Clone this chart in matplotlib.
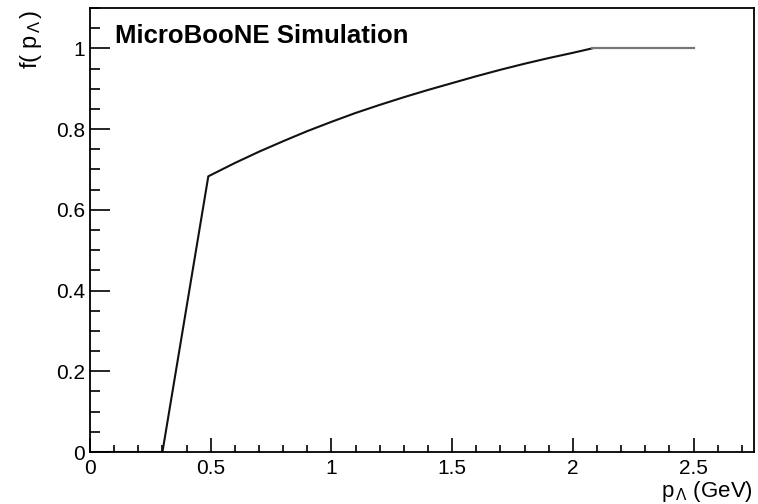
import matplotlib
matplotlib.use("Agg")
import matplotlib.pyplot as plt
from matplotlib.ticker import MultipleLocator

plt.rcParams['font.family'] = ['Liberation Sans', 'DejaVu Sans']
plt.rcParams['mathtext.fontset'] = 'custom'
plt.rcParams['mathtext.rm'] = 'Liberation Sans'
plt.rcParams['mathtext.it'] = 'Liberation Sans:italic'

# data
p_lambda = [0.0, 0.30, 0.49, 0.6, 0.7, 0.8, 0.9, 1.0, 1.1, 1.2, 1.3, 1.4,
            1.5, 1.6, 1.7, 1.8, 1.9, 2.0, 2.08, 2.5]
f_values = [0.0, 0.0, 0.683, 0.716, 0.744, 0.770, 0.795, 0.818, 0.840, 0.860,
            0.879, 0.897, 0.914, 0.931, 0.947, 0.962, 0.976, 0.989, 1.0, 1.0]
x_ticks = [0, 0.5, 1, 1.5, 2, 2.5]
x_tick_labels = ['0', '0.5', '1', '1.5', '2', '2.5']
y_ticks = [0, 0.2, 0.4, 0.6, 0.8, 1.0]
y_tick_labels = ['0', '0.2', '0.4', '0.6', '0.8', '1']

fig = plt.figure(figsize=(7.58, 5.04), dpi=100)
ax = fig.add_axes([90/758, 52/504, 664/758, 444/504])

ax.plot(p_lambda[:-1], f_values[:-1], color='#111111', lw=1.5)
ax.plot(p_lambda[-2:], f_values[-2:], color='#777777', lw=1.6)

ax.set_xlim(0, 2.75)
ax.set_ylim(0, 1.1)
ax.set_xticks(x_ticks)
ax.set_xticklabels(x_tick_labels)
ax.set_yticks(y_ticks)
ax.set_yticklabels(y_tick_labels)
ax.xaxis.set_minor_locator(MultipleLocator(0.1))
ax.yaxis.set_minor_locator(MultipleLocator(0.05))

ax.tick_params(axis='both', which='both', direction='in', top=False, right=False,
               labelsize=15, colors='black', width=1.2)
ax.tick_params(axis='x', which='major', length=10, pad=5)
ax.tick_params(axis='x', which='minor', length=5)
ax.tick_params(axis='y', which='major', length=14.5, pad=3.5)
ax.tick_params(axis='y', which='minor', length=7.2)
for s in ax.spines.values():
    s.set_linewidth(1.3)
    s.set_color('black')

ax.text((115 - 90)/664, 1 - 28/444, 'MicroBooNE Simulation', transform=ax.transAxes,
        fontsize=18.5, fontweight='bold', ha='left', va='center')

fig.text(753/758, 1 - 497/504, r'p$_{\,\mathrm{Λ}}$ (GeV)', fontsize=16,
         ha='right', va='baseline')
fig.text(31/758, 1 - 10/504, r'f( p$_{\,\mathrm{Λ}\,}$)', fontsize=17,
         rotation=90, ha='center', va='top')

fig.savefig('out.png', dpi=100)
